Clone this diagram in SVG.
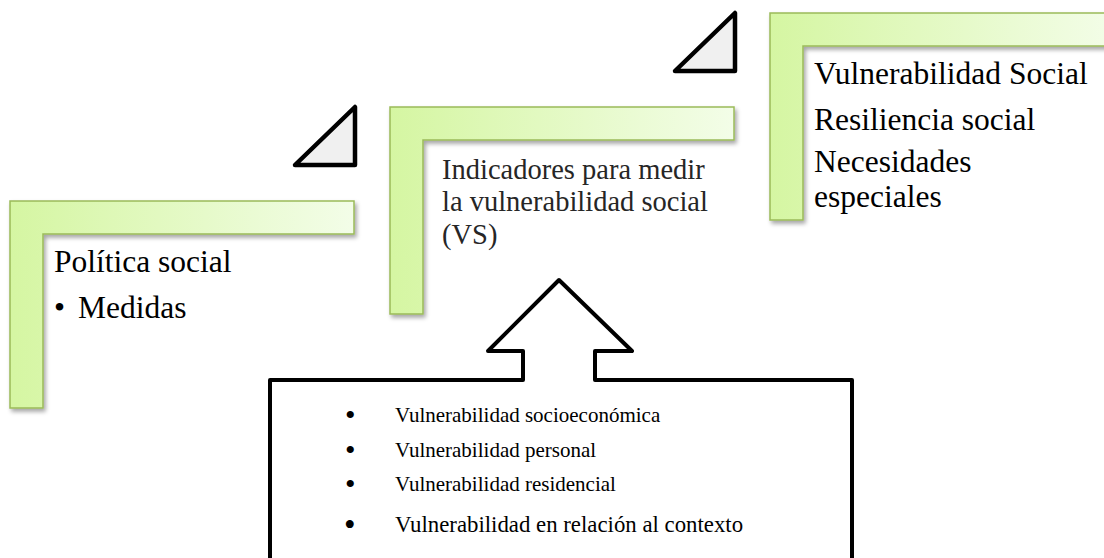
<svg xmlns="http://www.w3.org/2000/svg" width="1104" height="558" viewBox="0 0 1104 558">
  <defs>
    <linearGradient id="g" x1="0" y1="0" x2="1" y2="0">
      <stop offset="0" stop-color="#d5f6a2"/>
      <stop offset="1" stop-color="#f3fde8"/>
    </linearGradient>
    <filter id="sh" x="-10%" y="-10%" width="120%" height="120%">
      <feDropShadow dx="2" dy="3" stdDeviation="2" flood-color="#000" flood-opacity="0.35"/>
    </filter>
  </defs>
  <style>
    .l { fill: url(#g); stroke: #9bbb59; stroke-width: 1.5; filter: url(#sh); }
    .tri { fill: #f0f0f0; stroke: #000; stroke-width: 4.5; stroke-linejoin: round; }
    .t { font-family: "Liberation Serif", "Times New Roman", serif; fill: #000; }
    .big { font-size: 31.5px; }
    .mid { font-size: 28.5px; fill: #262626; }
    .sm { font-size: 21px; }
    .bul { font-size: 30px; }
  </style>

  <g id="node-politica">
    <path class="l" d="M10,201 h344 v33 h-311 v174 h-33 z"/>
    <text class="t big" x="54" y="272">Política social</text>
    <text class="t big" x="54" y="318">•</text>
    <text class="t big" x="78" y="318">Medidas</text>
  </g>

  <g id="node-indicadores">
    <path class="l" d="M390,107 h344 v33 h-311 v174 h-33 z"/>
    <text class="t mid" x="442" y="179">Indicadores para medir</text>
    <text class="t mid" x="442" y="211">la vulnerabilidad social</text>
    <text class="t mid" x="442" y="244">(VS)</text>
  </g>

  <g id="node-vulnerabilidad">
    <path class="l" d="M770,13 h344 v33 h-311 v174 h-33 z"/>
    <text class="t big" x="814" y="84">Vulnerabilidad Social</text>
    <text class="t big" x="814" y="130">Resiliencia social</text>
    <text class="t big" x="814" y="172">Necesidades</text>
    <text class="t big" x="814" y="207">especiales</text>
  </g>

  <g id="connectors">
    <path class="tri" d="M295,165 L355,107 L355,165 Z"/>
    <path class="tri" d="M675,71 L735,13 L735,71 Z"/>
  </g>

  <g id="node-dimensiones">
    <path d="M270,562 V380 H523 V351 H488 L559,280 L632,351 H595 V380 H852 V562" fill="#fff" stroke="#000" stroke-width="4" stroke-linejoin="round"/>
    <text class="t bul" x="345" y="425">•</text>
    <text class="t sm" x="395" y="422">Vulnerabilidad socioeconómica</text>
    <text class="t bul" x="345" y="460">•</text>
    <text class="t sm" x="395" y="457">Vulnerabilidad personal</text>
    <text class="t bul" x="345" y="494">•</text>
    <text class="t sm" x="395" y="491">Vulnerabilidad residencial</text>
    <text class="t" style="font-size:33px" x="344" y="536">•</text>
    <text class="t" style="font-size:22.8px" x="395" y="532">Vulnerabilidad en relación al contexto</text>
  </g>
</svg>
